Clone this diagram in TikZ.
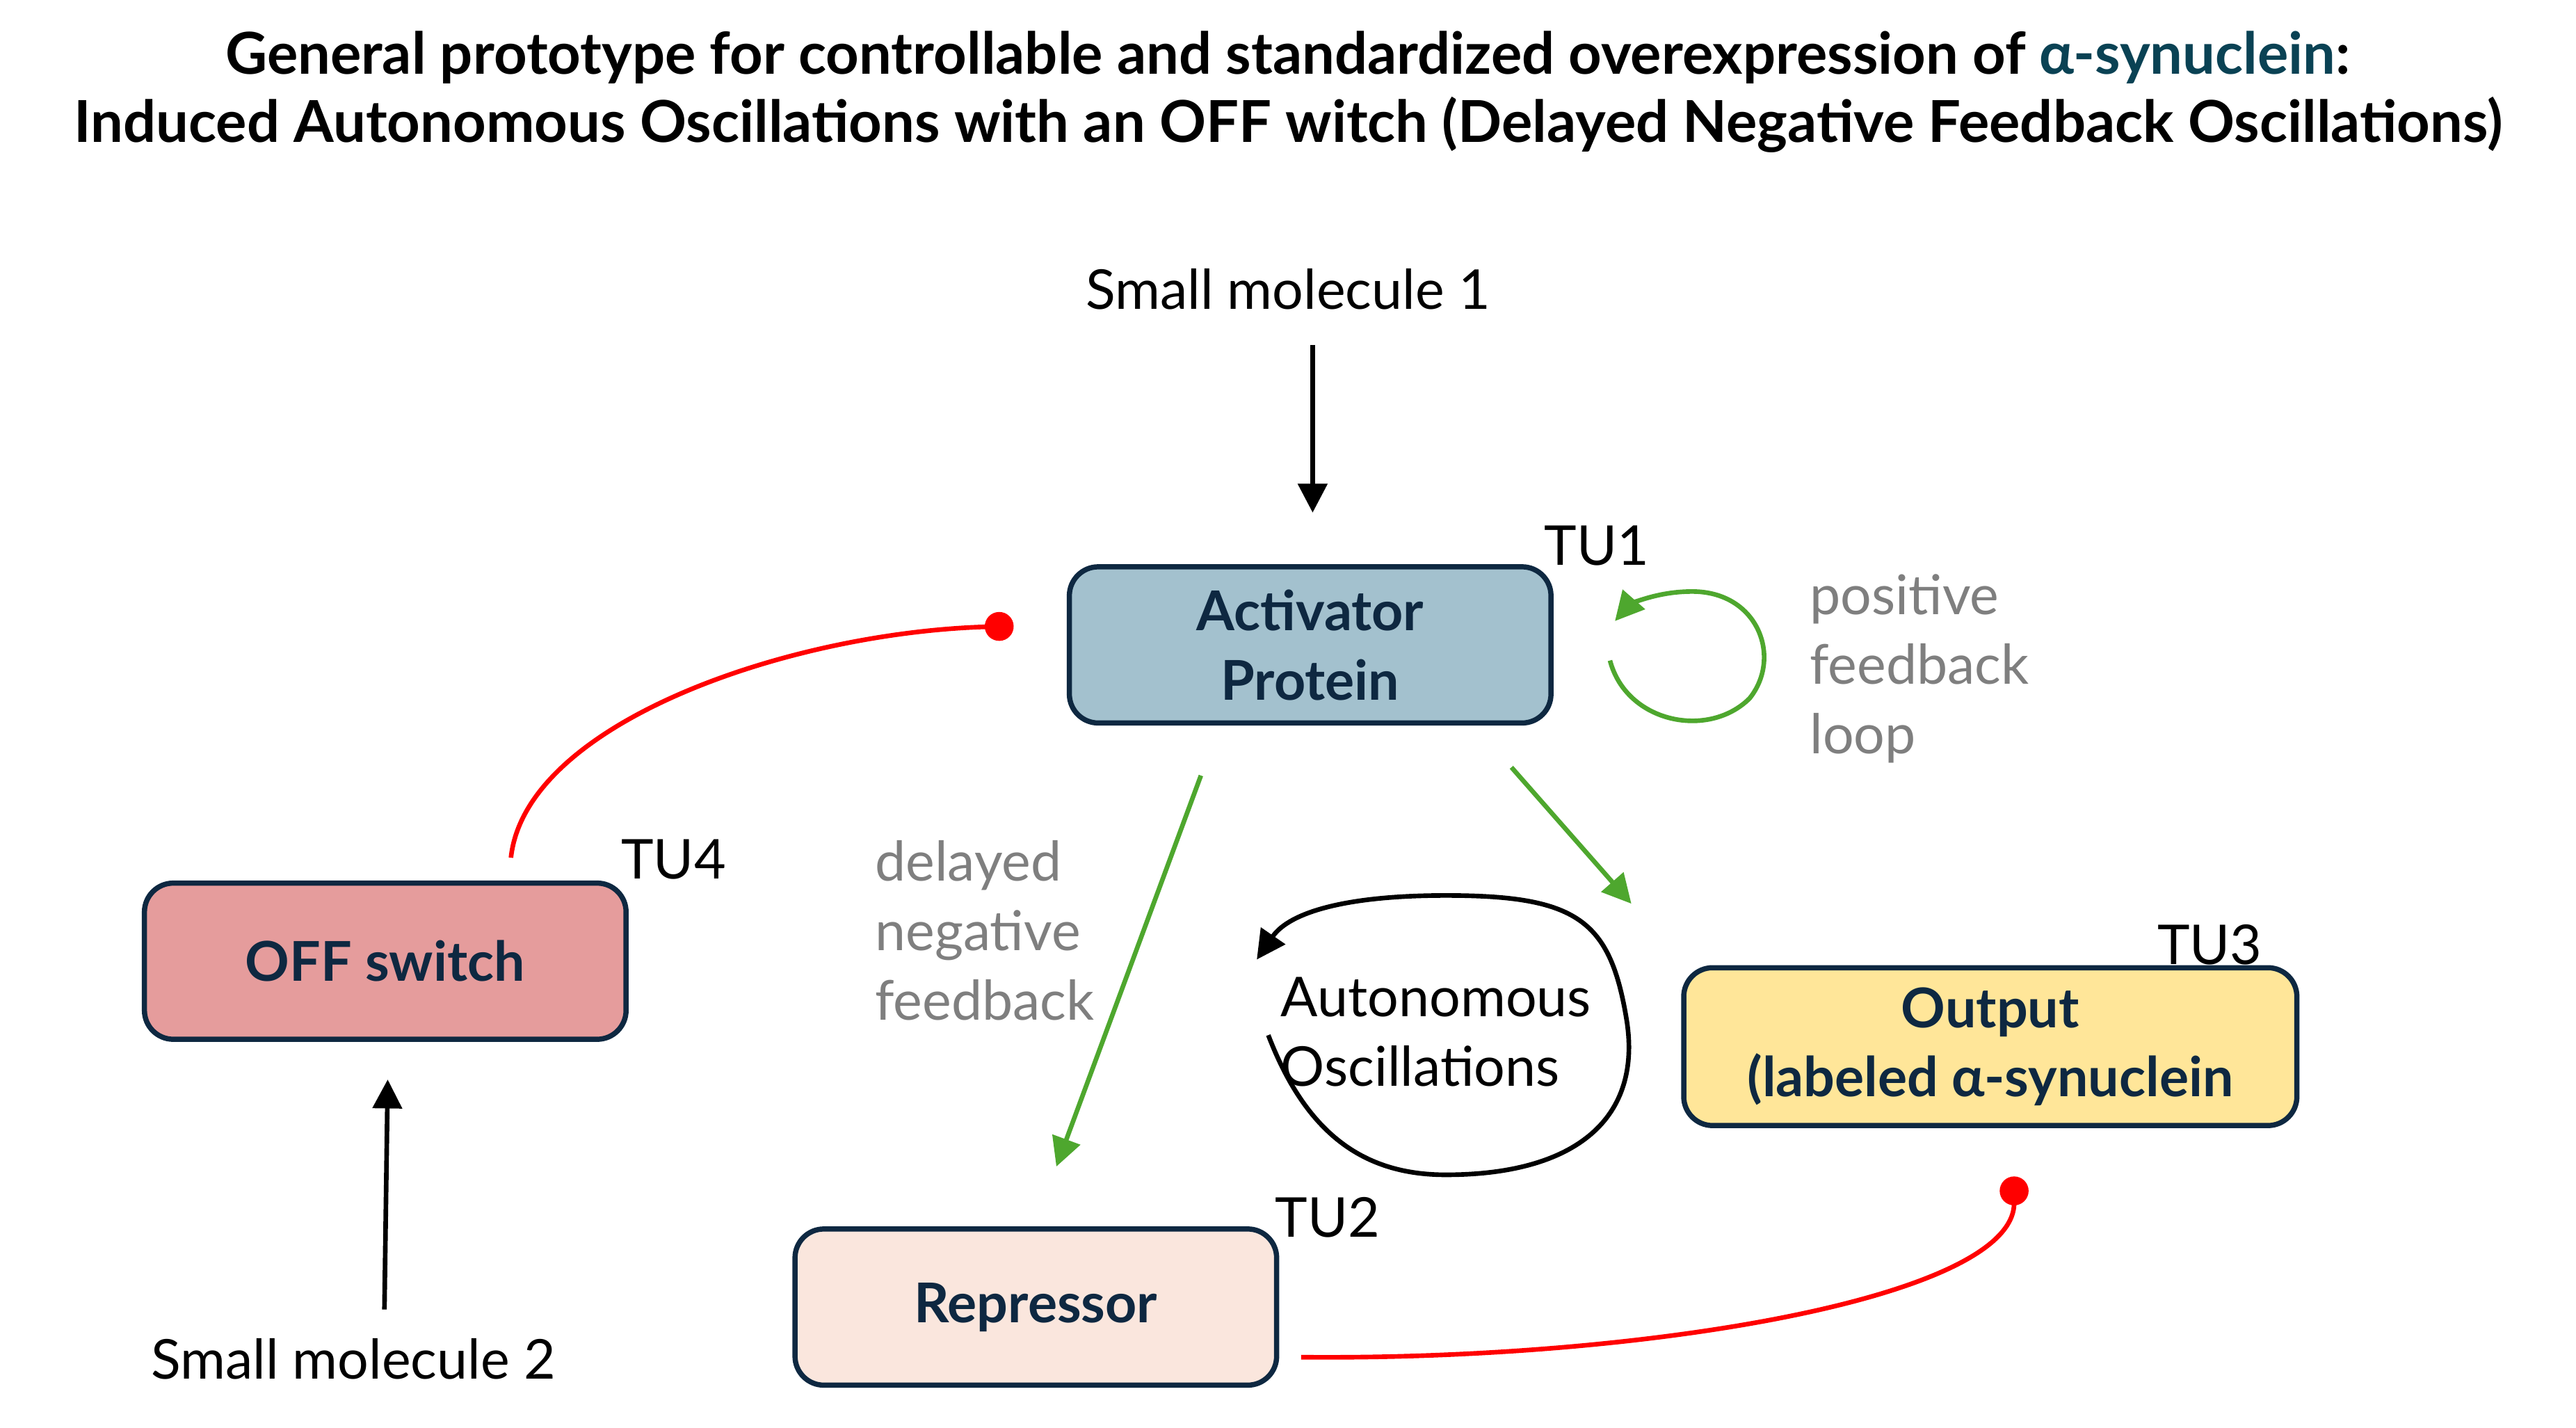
\documentclass[tikz,border=0pt]{standalone}
\usepackage{fontspec}
\setmainfont{Lato}
\usetikzlibrary{arrows.meta}
\definecolor{navy}{HTML}{0E2841}
\definecolor{act}{HTML}{A3C1CE}
\definecolor{off}{HTML}{E59C9C}
\definecolor{outc}{HTML}{FFE699}
\definecolor{rep}{HTML}{FAE6DD}
\definecolor{grn}{HTML}{4EA72E}
\definecolor{gtx}{HTML}{7F7F7F}
\begin{document}
\begin{tikzpicture}[x=0.01cm,y=-0.01cm,
  box/.style={draw=navy,line width=0.9pt,rounded corners=5pt,font=\fontsize{9.5}{12}\selectfont\bfseries,text=navy,align=center,minimum width=2.93cm,minimum height=0.95cm},
  lab/.style={font=\fontsize{9.5}{12}\selectfont,inner sep=0pt},
  glab/.style={lab,text=gtx,align=left},
  arr/.style={line width=0.8pt,-{Triangle[length=5pt,width=5pt]}},
  garr/.style={arr,draw=grn,color=grn},
  inh/.style={red,line width=0.8pt,-{Circle[length=5pt]}}]
\useasboundingbox (0,0) rectangle (1568,868.7);
\node[lab,font=\fontsize{10}{12}\selectfont\bfseries] (t1) at (784,35) {General prototype for controllable and standardized overexpression of \textcolor{navy!70!teal}{α-synuclein}:};
\node[lab,font=\fontsize{10}{12}\selectfont\bfseries] (t2) at (784,76) {Induced Autonomous Oscillations with an OFF witch (Delayed Negative Feedback Oscillations)};
\node[lab] (sm1) at (784,176) {Small molecule 1};
\coordinate (a1s) at (799,210); \coordinate (a1e) at (799,312);
\draw[arr] (a1s) -- (a1e);
\node[box,fill=act] (actv) at (797.5,392.5) {Activator\\Protein};
\node[lab] (tu1) at (972,332) {TU1};
\coordinate (g1) at (980,402); \coordinate (g2) at (983,378);
\draw[garr] (g1) .. controls (990,440) and (1040,450) .. (1065,425) .. controls (1085,400) and (1070,360) .. (1030,360) .. controls (1005,360) and (990,370) .. (g2);
\node[glab,anchor=north west,text width=2cm] (pfl) at (1101,349) {positive\\feedback\\loop};
\node[box,fill=off] (offs) at (234.5,585) {OFF switch};
\node[lab] (tu4) at (410,523) {TU4};
\coordinate (r1s) at (311,522); \coordinate (r1e) at (617,381);
\draw[inh] (r1s) .. controls (320,440) and (480,385) .. (r1e);
\node[lab] (sm2) at (215,827) {Small molecule 2};
\coordinate (a2s) at (234,797); \coordinate (a2e) at (236,657);
\draw[arr] (a2s) -- (a2e);
\node[glab,anchor=north west,text width=2cm] (dnf) at (532,511) {delayed\\negative\\feedback};
\coordinate (ga1) at (731,472); \coordinate (ga2) at (643,710);
\draw[garr] (ga1) -- (ga2);
\coordinate (gb1) at (920,467); \coordinate (gb2) at (993,550);
\draw[garr] (gb1) -- (gb2);
\node[lab,anchor=north west,align=left] (ao) at (779,594) {Autonomous\\Oscillations};
\coordinate (o1) at (772,630); \coordinate (o2) at (765,584);
\draw[arr] (o1) .. controls (795,690) and (830,715) .. (880,715) .. controls (960,715) and (1000,680) .. (990,620) .. controls (980,560) and (960,545) .. (880,545) .. controls (820,545) and (785,555) .. (o2);
\node[box,fill=outc,minimum width=3.73cm,minimum height=0.96cm] (outp) at (1211.5,637) {Output\\(labeled α-synuclein};
\node[lab] (tu3) at (1345,575) {TU3};
\node[box,fill=rep] (repr) at (630.5,795.5) {Repressor};
\node[lab] (tu2) at (808,741) {TU2};
\coordinate (r2s) at (792,826); \coordinate (r2e) at (1226,716);
\draw[inh] (r2s) .. controls (1000,828) and (1226,790) .. (r2e);
\end{tikzpicture}
\end{document}
